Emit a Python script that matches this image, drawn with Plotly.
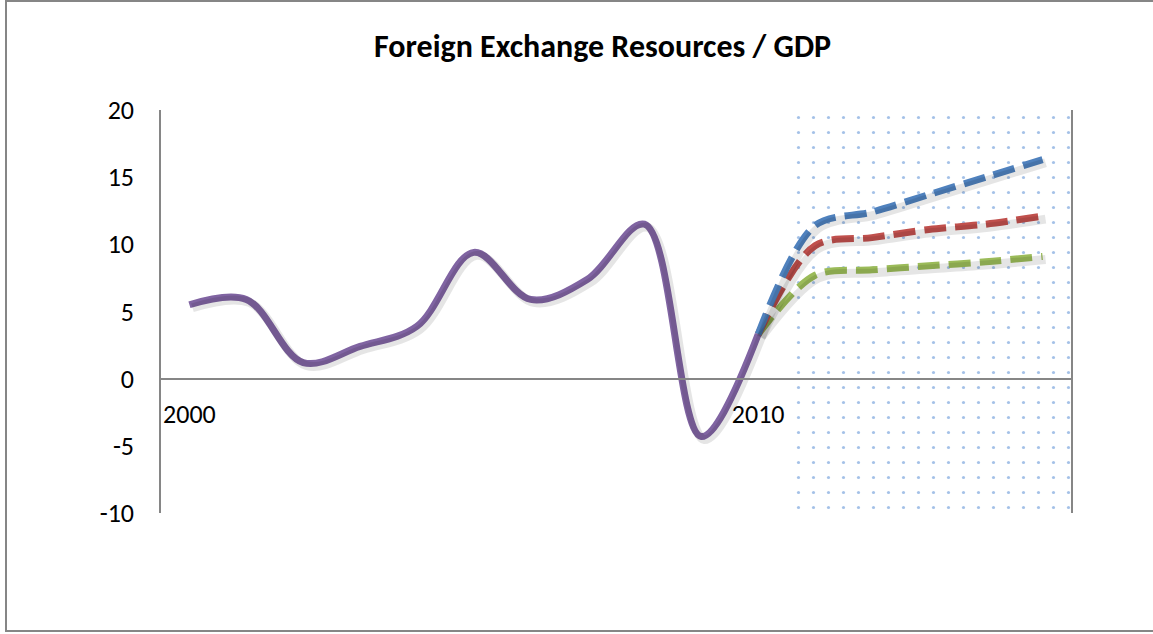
import plotly.graph_objects as go

# ---- data ----
actual_years = [2000, 2001, 2002, 2003, 2004, 2005, 2006, 2007, 2008, 2009, 2010]
actual_values = [5.5, 5.9, 1.2, 2.4, 3.9, 9.4, 5.9, 7.4, 11.5, -4.3, 3.3]

forecast_years = [2010, 2011, 2012, 2013, 2014, 2015]
forecast_high = [3.3, 11.4, 12.4, 13.7, 15.0, 16.3]
forecast_mid = [3.3, 9.9, 10.5, 11.1, 11.5, 12.1]
forecast_low = [3.3, 7.7, 8.1, 8.4, 8.7, 9.1]

x_tick_vals = [2000, 2010]
x_tick_text = ["2000", "2010"]
y_tick_vals = [-10, -5, 0, 5, 10, 15, 20]
y_tick_text = ["-10", "-5", "0", "5", "10", "15", "20"]
y_range = [-10, 20]
title_text = "Foreign Exchange Resources / GDP"

# ---- layout geometry (pixels) ----
W, H = 1153, 634
L, R, T, B = 161, 1071, 110, 513
plot_w, plot_h = R - L, B - T

x_lo = actual_years[0] - 0.5
x_hi = forecast_years[-1] + 0.5
fc_start = forecast_years[0] + 0.5

FONT = "Carlito, Calibri, Lato, sans-serif"
AXIS_GREY = "#868686"
FC_SMOOTH = 0.9

fig = go.Figure()

# forecast shaded (dotted) region
fig.add_trace(go.Scatter(
    x=[fc_start, x_hi, x_hi, fc_start, fc_start],
    y=[y_range[0], y_range[0], y_range[1], y_range[1], y_range[0]],
    mode="lines", line=dict(width=0), fill="toself",
    fillcolor="rgba(0,0,0,0)",
    fillpattern=dict(shape=".", fgcolor="#4A83CF", bgcolor="rgba(255,255,255,0)",
                     size=15, solidity=0.035),
    hoverinfo="skip", showlegend=False,
))

# shadows (drawn on slightly offset overlay axes)
dx = 3 * (x_hi - x_lo) / plot_w
dy = 3 * (y_range[1] - y_range[0]) / plot_h
for xs, ys, sm in [(actual_years, actual_values, 1), (forecast_years, forecast_high, FC_SMOOTH),
                   (forecast_years, forecast_mid, FC_SMOOTH), (forecast_years, forecast_low, FC_SMOOTH)]:
    fig.add_trace(go.Scatter(x=xs, y=ys, mode="lines",
                             line=dict(color="rgba(0,0,0,0.10)", width=9, shape="spline", smoothing=sm),
                             xaxis="x2", yaxis="y2", hoverinfo="skip", showlegend=False))

DASH = "22px,9px"
for ys, col in [(forecast_low, "#9BBB59"), (forecast_mid, "#C0504D"), (forecast_high, "#4F81BD")]:
    fig.add_trace(go.Scatter(x=forecast_years, y=ys, mode="lines",
                             line=dict(color=col, width=7, dash=DASH, shape="spline", smoothing=FC_SMOOTH),
                             showlegend=False))
fig.add_trace(go.Scatter(x=actual_years, y=actual_values, mode="lines",
                         line=dict(color="#8064A2", width=7, shape="spline", smoothing=1),
                         showlegend=False))

zero_pos = (0 - y_range[0]) / (y_range[1] - y_range[0])

fig.update_layout(
    width=W, height=H,
    margin=dict(l=L, r=W - R, t=T, b=H - B, pad=0),
    paper_bgcolor="white", plot_bgcolor="white",
    font=dict(family=FONT, size=26, color="black"),
    xaxis=dict(range=[x_lo, x_hi], tickvals=x_tick_vals, ticktext=x_tick_text,
               showgrid=False, zeroline=False, showline=True, linecolor=AXIS_GREY,
               linewidth=1.5, ticks="", anchor="free", position=zero_pos,
               ticklabelstandoff=12, tickfont=dict(size=26)),
    yaxis=dict(range=y_range, tickvals=y_tick_vals, ticktext=y_tick_text,
               showgrid=False, zeroline=False,
               showline=True, linecolor=AXIS_GREY, linewidth=1.5, mirror=True,
               ticks="", ticklabelstandoff=20, tickfont=dict(size=26)),
    xaxis2=dict(range=[x_lo - dx, x_hi - dx], overlaying="x", visible=False),
    yaxis2=dict(range=[y_range[0] + dy, y_range[1] + dy], overlaying="y", visible=False),
    annotations=[dict(text="<b>" + title_text + "</b>", xref="paper", yref="paper",
                      x=(602 - L) / plot_w, y=(B - 47) / plot_h, xanchor="center",
                      yanchor="middle", showarrow=False,
                      font=dict(family=FONT, size=32, color="black"))],
    shapes=[dict(type="rect", xref="paper", yref="paper",
                 x0=(6 - L) / plot_w, x1=(1165 - L) / plot_w,
                 y0=(B - 631) / plot_h, y1=(B - 1) / plot_h,
                 line=dict(color=AXIS_GREY, width=2), fillcolor="rgba(0,0,0,0)")],
)

fig.write_html("out.html", config={"displayModeBar": False},
               post_script="document.body.style.margin='0';")
